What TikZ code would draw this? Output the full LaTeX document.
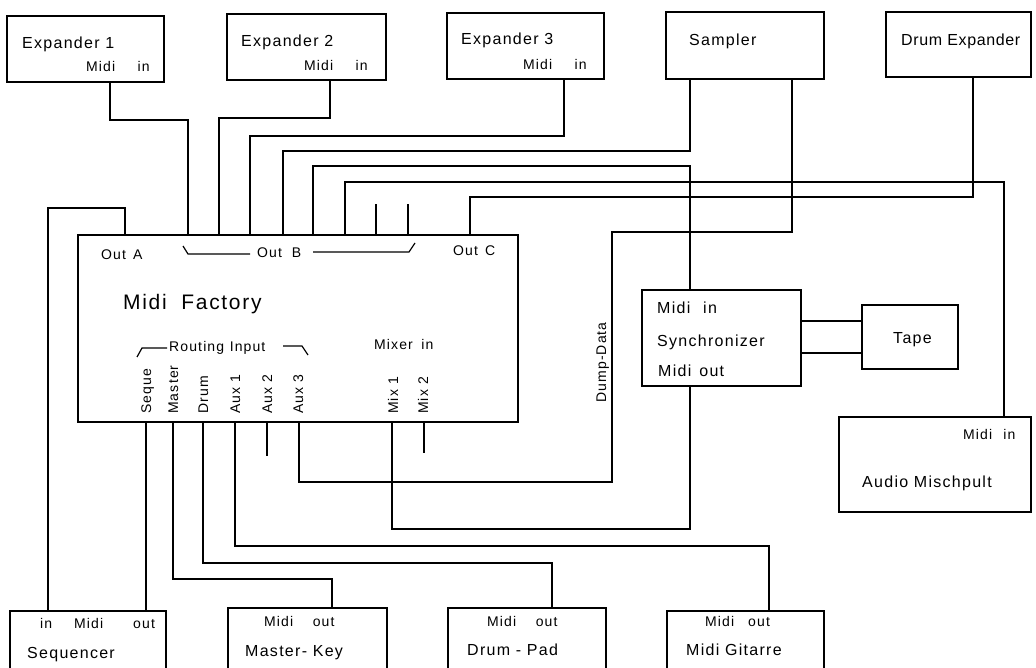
\documentclass[tikz,border=0pt]{standalone}
\usepackage{fontspec}
\setmainfont{Liberation Sans}[LetterSpace=8]
\begin{document}
\begin{tikzpicture}[x=1pt,y=-1pt]
\tikzset{
 box/.style={draw, line width=2.4pt, inner sep=0pt, outer sep=0pt, anchor=north west},
 wire/.style={line width=1.5pt, line join=miter},
 brk/.style={line width=1.2pt},
 lab/.style={anchor=base west, inner sep=0pt, font=\fontsize{16}{18}\selectfont},
 sml/.style={anchor=base west, inner sep=0pt, font=\fontsize{14}{16}\selectfont},
 big/.style={anchor=base west, inner sep=0pt, font=\fontsize{21}{24}\selectfont},
 vlab/.style={sml, rotate=90},
}
\newcommand\devbox[5]{\node[box, minimum width=#4pt, minimum height=#5pt] (#1) at (#2,#3) {};}
\useasboundingbox (0,0) rectangle (1036,668);
\clip (0,0) rectangle (1036,668);
\fill[white] (0,0) rectangle (1036,668);
% boxes
\devbox{exp1}{7}{16}{157}{66}
\devbox{exp2}{227}{14}{159}{66}
\devbox{exp3}{447}{13}{157}{66}
\devbox{smp}{666}{12}{158}{67}
\devbox{dexp}{886}{12}{145}{65}
\devbox{mf}{78}{235}{440}{187}
\devbox{sync}{642}{290}{159}{96}
\devbox{tape}{862}{305}{96}{64}
\devbox{mix}{839}{417}{192}{95}
\devbox{seq}{10}{611}{156}{80}
\devbox{mkey}{228}{608}{159}{80}
\devbox{dpad}{448}{608}{158}{80}
\devbox{gtr}{667}{611}{157}{80}
% texts
\node[lab] (te1) at (22,49) {Expander 1};
\node[sml] (te1m) at (86,72) {Midi\hspace{1.6em}in};
\node[lab] (te2) at (241,47) {Expander 2};
\node[sml] (te2m) at (304,71) {Midi\hspace{1.6em}in};
\node[lab] (te3) at (461,45) {Expander 3};
\node[sml] (te3m) at (523,70) {Midi\hspace{1.6em}in};
\node[lab] (tsmp) at (689,46) {Sampler};
\node[lab] (tdexp) at (901,46) {\addfontfeature{LetterSpace=4}Drum Expander};
\node[sml] (toa) at (101,260) {Out\hspace{0.5em}A};
\node[sml] (tob) at (257,258) {Out\hspace{0.7em}B};
\node[sml] (toc) at (453,256) {Out\hspace{0.5em}C};
\node[big] (tmf) at (123,309) {Midi\hspace{0.7em}Factory};
\node[sml] (tri) at (169,352) {Routing\hspace{0.4em}Input};
\node[sml] (tmi) at (374,349) {Mixer\hspace{0.6em}in};
\node[vlab] (tseq) at (151,414) {Seque};
\node[vlab] (tmas) at (178,414) {Master};
\node[vlab] (tdrm) at (208,414) {Drum};
\node[vlab] (ta1) at (240,414) {Aux 1};
\node[vlab] (ta2) at (272,414) {Aux 2};
\node[vlab] (ta3) at (303,414) {Aux 3};
\node[vlab] (tm1) at (398,414) {Mix 1};
\node[vlab] (tm2) at (428,414) {Mix 2};
\node[vlab] (tdd) at (606,403) {Dump-Data};
\node[lab] (tsi) at (657,313) {Midi\hspace{0.8em}in};
\node[lab] (tsy) at (657,346) {Synchronizer};
\node[lab] (tso) at (658,376) {Midi\hspace{0.5em}out};
\node[lab] (ttp) at (893,343) {Tape};
\node[sml] (tami) at (963,439) {Midi\hspace{0.8em}in};
\node[lab] (tam) at (862,487) {Audio Mischpult};
\node[sml] (tsqi) at (40,628) {in};
\node[sml] (tsqm) at (74,628) {Midi};
\node[sml] (tsqo) at (133,628) {out};
\node[lab] (tsq) at (27,658) {Sequencer};
\node[sml] (tmkm) at (264,626) {Midi\hspace{1.4em}out};
\node[lab] (tmk) at (245,656) {Master- Key};
\node[sml] (tdpm) at (487,626) {Midi\hspace{1.4em}out};
\node[lab] (tdp) at (467,655) {Drum - Pad};
\node[sml] (tgm) at (705,626) {Midi\hspace{1.0em}out};
\node[lab] (tg) at (686,655) {Midi Gitarre};
% brackets
\draw[brk] (183,246) -- (188,254) -- (250,254);
\draw[brk] (313,252) -- (409,252) -- (415,243);
\draw[brk] (137,357) -- (142,348) -- (167,348);
\draw[brk] (283,346) -- (302,346) -- (308,355);
% wires
\draw[wire] (exp1.south -| 110,0) -- ++(0,38) -| (mf.north -| 188,0);
\draw[wire] (exp2.south -| 330,0) -- ++(0,38) -| (mf.north -| 219,0);
\draw[wire] (exp3.south -| 564,0) -- ++(0,57) -| (mf.north -| 250,0);
\draw[wire] (smp.south -| 690,0) -- ++(0,72) -| (mf.north -| 283,0);
\draw[wire] (mf.north -| 313,0) -- ++(0,-69) -| (sync.north -| 690,0);
\draw[wire] (mf.north -| 345,0) -- ++(0,-53) -| (mix.north -| 1004,0);
\draw[wire] (mf.north -| 376,0) -- ++(0,-31);
\draw[wire] (mf.north -| 408,0) -- ++(0,-31);
\draw[wire] (dexp.south -| 973,0) -- ++(0,120) -| (mf.north -| 470,0);
\draw[wire] (smp.south -| 792,0) -- ++(0,153) -| (612,482) -| (mf.south -| 299,0);
\draw[wire] (seq.north -| 48,0) -- ++(0,-403) -| (mf.north -| 125,0);
\draw[wire] (mf.south -| 146,0) -- (seq.north -| 146,0);
\draw[wire] (mf.south -| 173,0) -- ++(0,157) -| (mkey.north -| 332,0);
\draw[wire] (mf.south -| 203,0) -- ++(0,141) -| (dpad.north -| 552,0);
\draw[wire] (mf.south -| 235,0) -- ++(0,124) -| (gtr.north -| 769,0);
\draw[wire] (mf.south -| 267,0) -- ++(0,34);
\draw[wire] (mf.south -| 392,0) -- ++(0,107) -| (sync.south -| 690,0);
\draw[wire] (mf.south -| 424,0) -- ++(0,31);
\draw[wire] (sync.east |- 0,321) -- (tape.west |- 0,321);
\draw[wire] (sync.east |- 0,353) -- (tape.west |- 0,353);
\end{tikzpicture}
\end{document}
